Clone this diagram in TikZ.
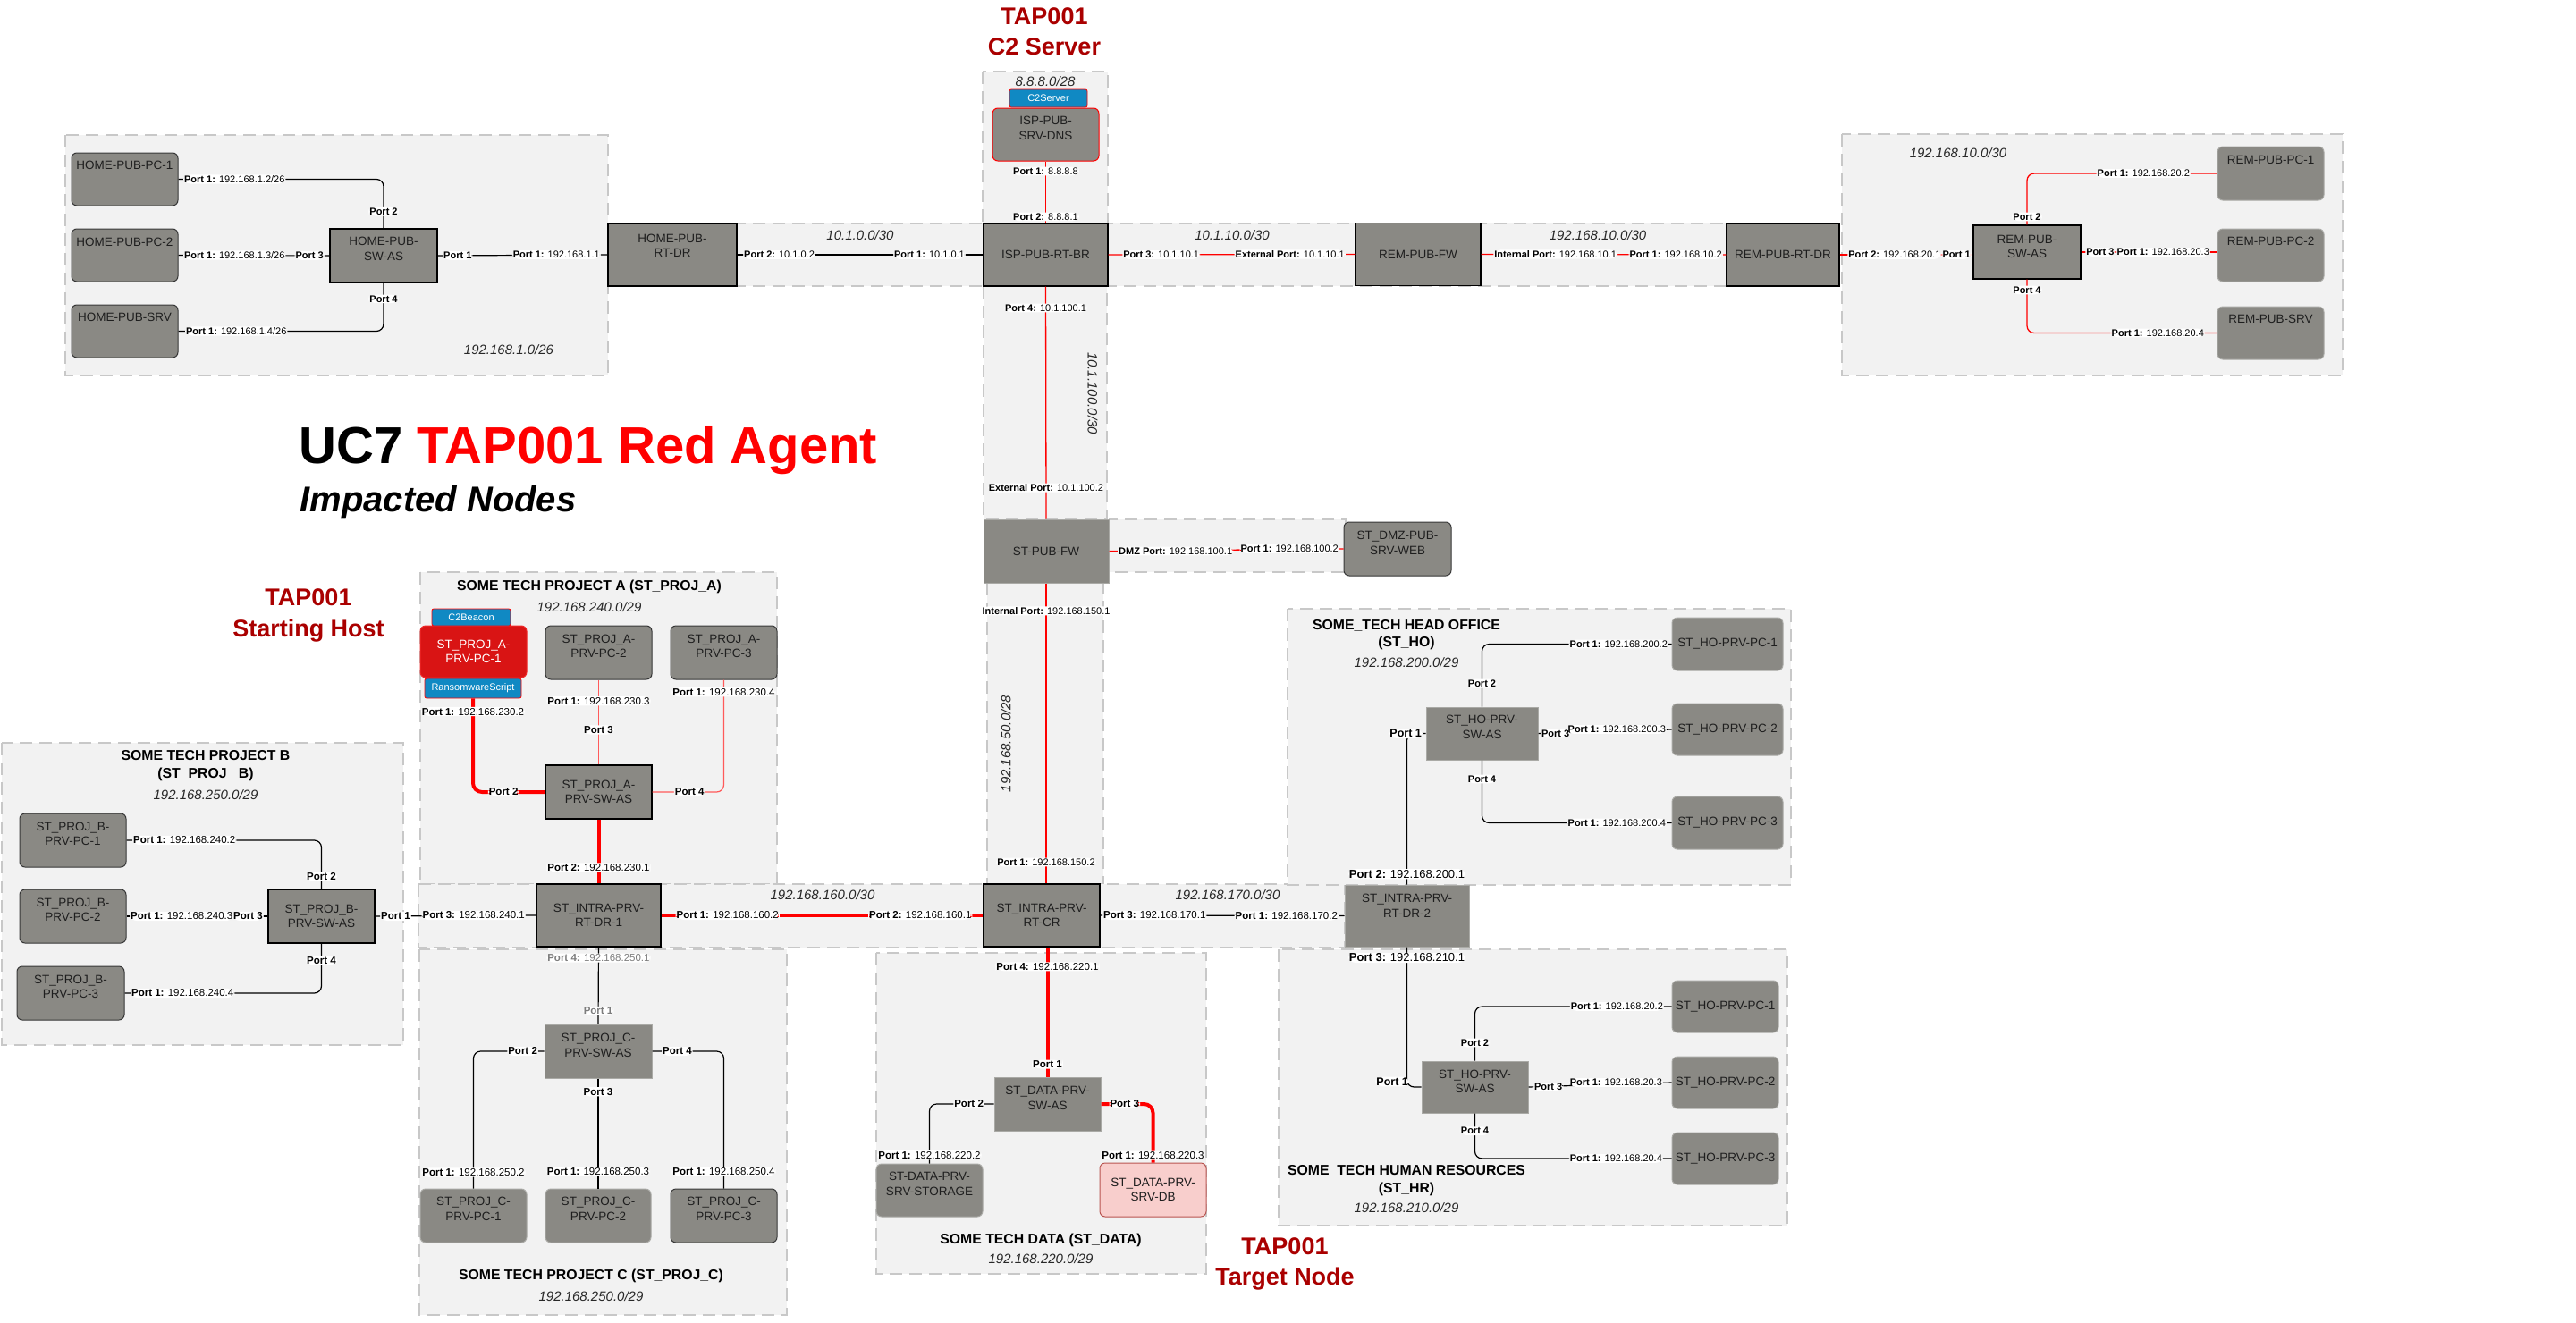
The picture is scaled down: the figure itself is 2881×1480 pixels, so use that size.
\documentclass[tikz,border=0pt]{standalone}
\usepackage{fontspec}
\setmainfont{Liberation Sans}
\definecolor{grpfill}{RGB}{242,242,242}
\definecolor{grpline}{RGB}{200,200,200}
\definecolor{devgray}{RGB}{138,137,132}
\definecolor{devtext}{RGB}{30,30,30}
\definecolor{tagblue}{RGB}{16,137,195}
\definecolor{darkred}{RGB}{170,0,0}
\definecolor{hostred}{RGB}{217,20,20}
\definecolor{hostline}{RGB}{240,40,40}
\definecolor{dbfill}{RGB}{248,206,204}
\definecolor{dbline}{RGB}{184,84,80}
\definecolor{pcline}{RGB}{55,55,55}
\definecolor{pclight}{RGB}{170,170,166}
\definecolor{softred}{RGB}{255,90,90}
\definecolor{fadedgray}{RGB}{125,125,125}
\definecolor{subtext}{RGB}{40,40,40}

% port label: bold port name, regular address
\newcommand\portlab[2]{\textbf{#1:} #2}

\begin{document}
\begin{tikzpicture}[x=1pt,y=-1pt,
  grp/.style={draw=grpline, fill=grpfill, line width=2pt, dash pattern=on 14pt off 8pt},
  bx/.style 2 args={minimum width=#1pt, minimum height=#2pt, inner sep=0pt},
  sw/.style={draw=black, fill=devgray, line width=1.2pt},
  swl/.style={draw=pclight, fill=devgray, line width=1pt},
  pc/.style={draw=pcline, fill=devgray, line width=1pt, rounded corners=6pt},
  pcl/.style={draw=pclight, fill=devgray, line width=1pt, rounded corners=6pt},
  host/.style={draw=hostline, fill=hostred, line width=1pt, rounded corners=6pt},
  dbn/.style={draw=dbline, fill=dbfill, line width=1pt, rounded corners=6pt},
  dtext/.style={font=\fontsize{13.5}{16.5}\selectfont, text=devtext, align=center, inner sep=0pt},
  txt/.style 2 args={label={[dtext, yshift=#1pt]center:{#2}}},
  txtw/.style 2 args={label={[dtext, text=white, yshift=#1pt]center:{#2}}},
  tag/.style={draw=red, fill=tagblue, text=white, font=\fontsize{11}{13}\selectfont, line width=0.8pt, rounded corners=2pt},
  blk/.style={draw=black, line width=1.2pt, rounded corners=8pt},
  rln/.style={draw=red, line width=1.3pt, rounded corners=8pt},
  soft/.style={draw=softred, line width=1.2pt, rounded corners=8pt},
  hot/.style={draw=red, line width=4pt, rounded corners=10pt},
  plab/.style={fill=white, inner sep=1pt, font=\fontsize{11}{13}\selectfont, text=black},
  plb/.style={plab, font=\fontsize{11.5}{13}\selectfont},
  plmid/.style={plab, font=\fontsize{12.5}{14}\selectfont},
  plbig/.style={plab, font=\fontsize{13}{15}\selectfont},
  sub/.style={font=\fontsize{15}{18}\selectfont\itshape, text=subtext},
  gtitle/.style={font=\fontsize{15.8}{19.5}\selectfont\bfseries, align=center},
  tap/.style={font=\fontsize{27}{32}\selectfont\bfseries, text=darkred, anchor=base}
]
\useasboundingbox (0,0) rectangle (2881,1480);
\fill[white] (0,0) rectangle (2881,1480);

% ---------- subnet areas ----------
\path[grp] (72.5,151) rectangle (680,420);      % home LAN
\path[grp] (2060,150) rectangle (2620,420);     % remote LAN
\path[grp] (1099,80) rectangle (1239,250);      % ISP DNS
\path[grp] (824,250) rectangle (1100,320);      % 10.1.0.0/30
\path[grp] (1239,250) rectangle (1931,320);     % 10.1.10.0/30 + 192.168.10.0/30
\path[grp] (1100,320) rectangle (1238,581);     % 10.1.100.0/30
\path[grp] (1240,581) rectangle (1505,640);     % DMZ
\path[grp] (1104,652) rectangle (1234,989);     % 192.168.50.0/28
\path[grp] (470,640) rectangle (869,989);       % project A
\path[grp] (2,831) rectangle (451,1169);        % project B
\path[grp] (468,989) rectangle (1504,1060);     % intranet core
\path[grp] (469,1062) rectangle (880,1471);     % project C
\path[grp] (980,1066) rectangle (1349,1425);    % data
\path[grp] (1440,681) rectangle (2003,990);     % head office
\path[grp] (1430,1062) rectangle (1999,1371);   % human resources

% ---------- titles ----------
\node[anchor=base west, font=\fontsize{58}{62}\selectfont\bfseries] (title) at (331,518) {UC7 \textcolor{red}{TAP001 Red Agent}};
\node[anchor=base west, font=\fontsize{40}{44}\selectfont\bfseries\itshape] (subtitle) at (332,572) {Impacted Nodes};
\node[tap] (tc2a) at (1168,28) {TAP001};
\node[tap] (tc2b) at (1168,62) {C2 Server};
\node[tap] (tsha) at (345,677) {TAP001};
\node[tap] (tshb) at (345,712) {Starting Host};
\node[tap] (ttna) at (1437,1403) {TAP001};
\node[tap] (ttnb) at (1437,1437) {Target Node};

% ---------- area captions ----------
\node[sub] (nhome) at (569,391) {192.168.1.0/26};
\node[sub] (n10a) at (962,263) {10.1.0.0/30};
\node[sub] (ndns) at (1169,91) {8.8.8.0/28};
\node[sub] (n10b) at (1378,263) {10.1.10.0/30};
\node[sub] (nrfw) at (1787,263) {192.168.10.0/30};
\node[sub] (nrem) at (2190,171) {192.168.10.0/30};
\node[sub, rotate=-90] (n100) at (1222,440) {10.1.100.0/30};
\node[sub, rotate=90] (n50) at (1125,832) {192.168.50.0/28};
\node[sub] (n160) at (920,1001) {192.168.160.0/30};
\node[sub] (n170) at (1373,1001) {192.168.170.0/30};

\node[gtitle] (tpa) at (659,656) {SOME TECH PROJECT A (ST\_PROJ\_A)};
\node[sub] (spa) at (659,679) {192.168.240.0/29};
\node[gtitle] (tpb) at (230,856.5) {SOME TECH PROJECT B\\(ST\_PROJ\_ B)};
\node[sub] (spb) at (230,889) {192.168.250.0/29};
\node[gtitle] (tpc) at (661,1427) {SOME TECH PROJECT C (ST\_PROJ\_C)};
\node[sub] (spc) at (661,1450) {192.168.250.0/29};
\node[gtitle] (tdata) at (1164,1387) {SOME TECH DATA (ST\_DATA)};
\node[sub] (sdata) at (1164,1408) {192.168.220.0/29};
\node[gtitle] (tho) at (1573,710) {SOME\_TECH HEAD OFFICE\\(ST\_HO)};
\node[sub] (sho) at (1573,741) {192.168.200.0/29};
\node[gtitle] (thr) at (1573,1320.5) {SOME\_TECH HUMAN RESOURCES\\(ST\_HR)};
\node[sub] (shr) at (1573,1351) {192.168.210.0/29};

% ---------- devices ----------
% home
\node[pc, bx={119}{59}, txt={15.5}{HOME-PUB-PC-1}] (hpc1) at (139.5,200.5) {};
\node[pc, bx={119}{59}, txt={14.5}{HOME-PUB-PC-2}] (hpc2) at (139.5,285.5) {};
\node[pc, bx={119}{59}, txt={15.5}{HOME-PUB-SRV}] (hsrv) at (139.5,370.5) {};
\node[sw, bx={120}{60}, txt={7.5}{HOME-PUB-\\SW-AS}] (hsw) at (429,286) {};
\node[sw, bx={144}{70}, txt={10}{HOME-PUB-\\RT-DR}] (hrt) at (752,285) {};
% ISP and remote site
\node[pc, draw=red, bx={119}{59}, txt={7}{ISP-PUB-\\SRV-DNS}] (dns) at (1169.5,150.5) {};
\node[tag, bx={87}{20}] (c2s) at (1172.5,110) {C2Server};
\node[sw, bx={139}{70}, txt={0}{ISP-PUB-RT-BR}] (isp) at (1169.5,285) {};
\node[sw, bx={140}{70}, txt={0}{REM-PUB-FW}] (rfw) at (1586,284.5) {};
\node[sw, bx={126}{70}, txt={0}{REM-PUB-RT-DR}] (rrt) at (1994,285) {};
\node[sw, bx={120}{60}, txt={6}{REM-PUB-\\SW-AS}] (rsw) at (2267,282) {};
\node[pcl, bx={119}{60}, txt={15}{REM-PUB-PC-1}] (rpc1) at (2539.5,194) {};
\node[pcl, bx={119}{59}, txt={15.5}{REM-PUB-PC-2}] (rpc2) at (2539.5,285.5) {};
\node[pcl, bx={119}{59}, txt={15.5}{REM-PUB-SRV}] (rsrv) at (2539.5,372.5) {};
% perimeter
\node[swl, bx={140}{71}, txt={0}{ST-PUB-FW}] (sfw) at (1170,616.5) {};
\node[pc, bx={120}{60}, txt={6.5}{ST\_DMZ-PUB-\\SRV-WEB}] (web) at (1563,614) {};
% intranet routers
\node[sw, bx={139}{70}, txt={0}{ST\_INTRA-PRV-\\RT-DR-1}] (dr1) at (669.5,1024) {};
\node[sw, bx={130}{70}, txt={0}{ST\_INTRA-PRV-\\RT-CR}] (cr) at (1165,1024) {};
\node[swl, bx={139}{69}, txt={11}{ST\_INTRA-PRV-\\RT-DR-2}] (dr2) at (1573.5,1024.5) {};
% project A
\node[sw, bx={119}{60}, txt={0}{ST\_PROJ\_A-\\PRV-SW-AS}] (asw) at (669.5,886) {};
\node[host, bx={119}{58}, txtw={0}{ST\_PROJ\_A-\\PRV-PC-1}] (apc1) at (529.5,729) {};
\node[tag, bx={88}{19}] (beacon) at (527,690.5) {C2Beacon};
\node[tag, bx={108}{22}] (ransom) at (529,770) {RansomwareScript};
\node[pc, bx={119}{60}, txt={7}{ST\_PROJ\_A-\\PRV-PC-2}] (apc2) at (669.5,730) {};
\node[pc, bx={119}{60}, txt={7}{ST\_PROJ\_A-\\PRV-PC-3}] (apc3) at (809.5,730) {};
% project B
\node[sw, bx={119}{60}, txt={0}{ST\_PROJ\_B-\\PRV-SW-AS}] (bsw) at (359.5,1025) {};
\node[pc, bx={119}{60}, txt={7}{ST\_PROJ\_B-\\PRV-PC-1}] (bpc1) at (81.5,940) {};
\node[pc, bx={119}{60}, txt={7}{ST\_PROJ\_B-\\PRV-PC-2}] (bpc2) at (81.5,1025) {};
\node[pc, bx={120}{60}, txt={7}{ST\_PROJ\_B-\\PRV-PC-3}] (bpc3) at (79,1111) {};
% project C
\node[swl, bx={120}{60}, txt={6.5}{ST\_PROJ\_C-\\PRV-SW-AS}] (csw) at (669,1176) {};
\node[pcl, bx={119}{60}, txt={7.5}{ST\_PROJ\_C-\\PRV-PC-1}] (cpc1) at (529.5,1360) {};
\node[pcl, bx={118}{60}, txt={7.5}{ST\_PROJ\_C-\\PRV-PC-2}] (cpc2) at (669,1360) {};
\node[pc, bx={119}{60}, txt={7.5}{ST\_PROJ\_C-\\PRV-PC-3}] (cpc3) at (809.5,1360) {};
% data
\node[swl, bx={119}{60}, txt={6.5}{ST\_DATA-PRV-\\SW-AS}] (dsw) at (1171.5,1235) {};
\node[pcl, bx={119}{59}, txt={7}{ST-DATA-PRV-\\SRV-STORAGE}] (stor) at (1039.5,1331.5) {};
\node[dbn, bx={119}{60}, txt={0}{ST\_DATA-PRV-\\SRV-DB}] (db) at (1289.5,1331) {};
% head office
\node[swl, bx={125}{59}, txt={7}{ST\_HO-PRV-\\SW-AS}] (hosw) at (1657.5,820.5) {};
\node[pcl, bx={124}{59}, txt={0}{ST\_HO-PRV-PC-1}] (hopc1) at (1932,720.5) {};
\node[pcl, bx={124}{58}, txt={0}{ST\_HO-PRV-PC-2}] (hopc2) at (1932,816) {};
\node[pcl, bx={124}{59}, txt={0}{ST\_HO-PRV-PC-3}] (hopc3) at (1932,920.5) {};
% human resources
\node[swl, bx={119}{58}, txt={6}{ST\_HO-PRV-\\SW-AS}] (hrsw) at (1649.5,1216) {};
\node[pcl, bx={119}{58}, txt={0}{ST\_HO-PRV-PC-1}] (hrpc1) at (1929.5,1126) {};
\node[pcl, bx={119}{58}, txt={0}{ST\_HO-PRV-PC-2}] (hrpc2) at (1929.5,1211) {};
\node[pcl, bx={119}{58}, txt={0}{ST\_HO-PRV-PC-3}] (hrpc3) at (1929.5,1296) {};

% ---------- links: home LAN ----------
\draw[blk] (hpc1.east) -- node[plab, pos=0, anchor=west, xshift=5]{\portlab{Port 1}{192.168.1.2/26}} (hpc1.east -| hsw.north) -- node[plab, pos=0.66]{\textbf{Port 2}} (hsw.north);
\draw[blk] (hpc2.east) -- node[plab, pos=0, anchor=west, xshift=5]{\portlab{Port 1}{192.168.1.3/26}} node[plab, pos=1, anchor=east, xshift=-5]{\textbf{Port 3}} (hsw.west);
\draw[blk] (hsrv.east) -- node[plab, pos=0, anchor=west, xshift=7]{\portlab{Port 1}{192.168.1.4/26}} (hsrv.east -| hsw.south) -- node[plab, pos=0.67]{\textbf{Port 4}} (hsw.south);
\draw[blk] (hsw.east) -- node[plab, pos=0, anchor=west, xshift=5]{\textbf{Port 1}} node[plab, pos=1, anchor=east, xshift=-7]{\portlab{Port 1}{192.168.1.1}} (hrt.west);

% ---------- links: ISP and remote site ----------
\draw[blk] (hrt.east) -- node[plab, pos=0, anchor=west, xshift=6]{\portlab{Port 2}{10.1.0.2}} node[plab, pos=1, anchor=east, xshift=-19]{\portlab{Port 1}{10.1.0.1}} (isp.west);
\draw[rln] (dns.south) -- node[plab, pos=0.16]{\portlab{Port 1}{8.8.8.8}} node[plab, pos=0.9]{\portlab{Port 2}{8.8.8.1}} (isp.north);
\draw[rln] (isp.east) -- node[plab, pos=0, anchor=west, xshift=15]{\portlab{Port 3}{10.1.10.1}} node[plab, pos=1, anchor=east, xshift=-10]{\portlab{External Port}{10.1.10.1}} (rfw.west);
\draw[rln] (rfw.east) -- node[plab, pos=0, anchor=west, xshift=13]{\portlab{Internal Port}{192.168.10.1}} node[plab, pos=1, anchor=east, xshift=-3]{\portlab{Port 1}{192.168.10.2}} (rrt.west);
\draw[rln] (rrt.east) -- node[plab, pos=0, anchor=west, xshift=8]{\portlab{Port 2}{192.168.20.1}} node[plab, pos=1, anchor=east, xshift=-1]{\textbf{Port 1}} (rrt.east -| rsw.west);
\draw[rln] (rsw.north) -- node[plab, pos=0.155]{\textbf{Port 2}} (rsw.north |- rpc1.west) -- node[plab, pos=1, anchor=east, xshift=-29]{\portlab{Port 1}{192.168.20.2}} (rpc1.west);
\draw[rln] (rsw.east) -- node[plab, pos=0, anchor=west, xshift=4]{\textbf{Port 3}} node[plab, pos=1, anchor=east, xshift=-7]{\portlab{Port 1}{192.168.20.3}} (rsw.east -| rpc2.west);
\draw[rln] (rsw.south) -- node[plab, pos=0.2]{\textbf{Port 4}} (rsw.south |- rsrv.west) -- node[plab, pos=1, anchor=east, xshift=-13]{\portlab{Port 1}{192.168.20.4}} (rsrv.west);

% ---------- links: perimeter ----------
\draw[rln] (isp.south) -- node[plab, pos=0.092]{\portlab{Port 4}{10.1.100.1}} node[plab, pos=0.866]{\portlab{External Port}{10.1.100.2}} (sfw.north);
\draw[rln] (sfw.east) -- node[plab, pos=0, anchor=west, xshift=9]{\portlab{DMZ Port}{192.168.100.1}} node[plab, pos=1, anchor=east, xshift=-4]{\portlab{Port 1}{192.168.100.2}} (web.west);
\draw[rln] (sfw.south) -- node[plab, pos=0.092]{\portlab{Internal Port}{192.168.150.1}} node[plab, pos=0.929]{\portlab{Port 1}{192.168.150.2}} (sfw.south |- cr.north);

% ---------- links: intranet core ----------
\draw[blk] (bsw.east) -- node[plb, pos=0, anchor=west, xshift=5]{\textbf{Port 1}} node[plb, pos=1, anchor=east, xshift=-11]{\portlab{Port 3}{192.168.240.1}} (dr1.west);
\draw[hot] (dr1.east) -- node[plb, pos=0, anchor=west, xshift=14]{\portlab{Port 1}{192.168.160.2}} node[plb, pos=1, anchor=east, xshift=-10]{\portlab{Port 2}{192.168.160.1}} (cr.west);
\draw[blk] (cr.east) -- node[plb, pos=0, anchor=west, xshift=2]{\portlab{Port 3}{192.168.170.1}} node[plb, pos=1, anchor=east, xshift=-6]{\portlab{Port 1}{192.168.170.2}} (dr2.west);
\draw[hot] (asw.south) -- node[plb, pos=0.75]{\portlab{Port 2}{192.168.230.1}} (dr1.north);
\draw[blk] (dr1.south) -- node[plb, text=fadedgray, pos=0.14]{\portlab{Port 4}{192.168.250.1}} node[plb, text=fadedgray, pos=0.83]{\textbf{Port 1}} (csw.north);

% ---------- links: project A ----------
\draw[hot] (ransom.south) -- node[plb, pos=0.14]{\portlab{Port 1}{192.168.230.2}} (ransom.south |- asw.west) -- node[plb, pos=1, anchor=east, xshift=-27]{\textbf{Port 2}} (asw.west);
\draw[soft] (apc2.south) -- node[plb, pos=0.25]{\portlab{Port 1}{192.168.230.3}} node[plb, pos=0.59]{\textbf{Port 3}} (asw.north);
\draw[soft] (apc3.south) -- node[plb, pos=0.11]{\portlab{Port 1}{192.168.230.4}} (apc3.south |- asw.east) -- node[plb, pos=0.48]{\textbf{Port 4}} (asw.east);

% ---------- links: project B ----------
\draw[blk] (bpc1.east) -- node[plb, pos=0, anchor=west, xshift=6]{\portlab{Port 1}{192.168.240.2}} (bpc1.east -| bsw.north) -- node[plb, pos=0.745]{\textbf{Port 2}} (bsw.north);
\draw[blk] (bpc2.east) -- node[plb, pos=0, anchor=west, xshift=3]{\portlab{Port 1}{192.168.240.3}} node[plb, pos=1, anchor=east, xshift=-4]{\textbf{Port 3}} (bsw.west);
\draw[blk] (bpc3.east) -- node[plb, pos=0, anchor=west, xshift=6]{\portlab{Port 1}{192.168.240.4}} (bpc3.east -| bsw.south) -- node[plb, pos=0.66]{\textbf{Port 4}} (bsw.south);

% ---------- links: project C ----------
\draw[blk] (csw.west) -- node[plb, pos=0, anchor=east, xshift=-6]{\textbf{Port 2}} (csw.west -| cpc1.north) -- node[plb, pos=0.883]{\portlab{Port 1}{192.168.250.2}} (cpc1.north);
\draw[blk] (csw.south) -- node[plb, pos=0.12]{\textbf{Port 3}} node[plb, pos=0.847]{\portlab{Port 1}{192.168.250.3}} (cpc2.north);
\draw[blk] (csw.east) -- node[plb, pos=0, anchor=west, xshift=10]{\textbf{Port 4}} (csw.east -| cpc3.north) -- node[plb, pos=0.876]{\portlab{Port 1}{192.168.250.4}} (cpc3.north);

% ---------- links: data ----------
\draw[hot] (cr.south -| dsw.north) -- node[plb, pos=0.15]{\portlab{Port 4}{192.168.220.1}} node[plb, pos=0.904]{\textbf{Port 1}} (dsw.north);
\draw[blk] (dsw.west) -- node[plb, pos=0, anchor=east, xshift=-10]{\textbf{Port 2}} (dsw.west -| stor.north) -- node[plb, pos=0.86]{\portlab{Port 1}{192.168.220.2}} (stor.north);
\draw[hot] (dsw.east) -- node[plb, pos=0, anchor=west, xshift=7]{\textbf{Port 3}} (dsw.east -| db.north) -- node[plb, pos=0.88]{\portlab{Port 1}{192.168.220.3}} (db.north);

% ---------- links: head office ----------
\draw[blk] (dr2.north) -- node[plbig, pos=0.07]{\portlab{Port 2}{192.168.200.1}} (dr2.north |- hosw.west) -- node[plmid, pos=1, anchor=east, xshift=-3]{\textbf{Port 1}} (hosw.west);
\draw[blk] (hosw.north) -- node[plab, pos=0.37]{\textbf{Port 2}} (hosw.north |- hopc1.west) -- node[plab, pos=1, anchor=east, xshift=-3]{\portlab{Port 1}{192.168.200.2}} (hopc1.west);
\draw[blk] (hosw.east) -- node[plab, pos=0, anchor=west, xshift=2]{\textbf{Port 3}} node[plab, pos=1, anchor=east, xshift=-5]{\portlab{Port 1}{192.168.200.3}} (hopc2.west);
\draw[blk] (hosw.south) -- node[plab, pos=0.3]{\textbf{Port 4}} (hosw.south |- hopc3.west) -- node[plab, pos=1, anchor=east, xshift=-5]{\portlab{Port 1}{192.168.200.4}} (hopc3.west);

% ---------- links: human resources ----------
\draw[blk] (dr2.south) -- node[plbig, pos=0.076]{\portlab{Port 3}{192.168.210.1}} (dr2.south |- hrsw.west) -- node[plmid, pos=1, anchor=east, xshift=-13, yshift=6]{\textbf{Port 1}} (hrsw.west);
\draw[blk] (hrsw.north) -- node[plab, pos=0.33]{\textbf{Port 2}} (hrsw.north |- hrpc1.west) -- node[plab, pos=1, anchor=east, xshift=-8]{\portlab{Port 1}{192.168.20.2}} (hrpc1.west);
\draw[blk] (hrsw.east) -- node[plab, pos=0, anchor=west, xshift=5]{\textbf{Port 3}} node[plab, pos=1, anchor=east, xshift=-9]{\portlab{Port 1}{192.168.20.3}} (hrpc2.west);
\draw[blk] (hrsw.south) -- node[plab, pos=0.39]{\textbf{Port 4}} (hrsw.south |- hrpc3.west) -- node[plab, pos=1, anchor=east, xshift=-9]{\portlab{Port 1}{192.168.20.4}} (hrpc3.west);
\end{tikzpicture}
\end{document}
